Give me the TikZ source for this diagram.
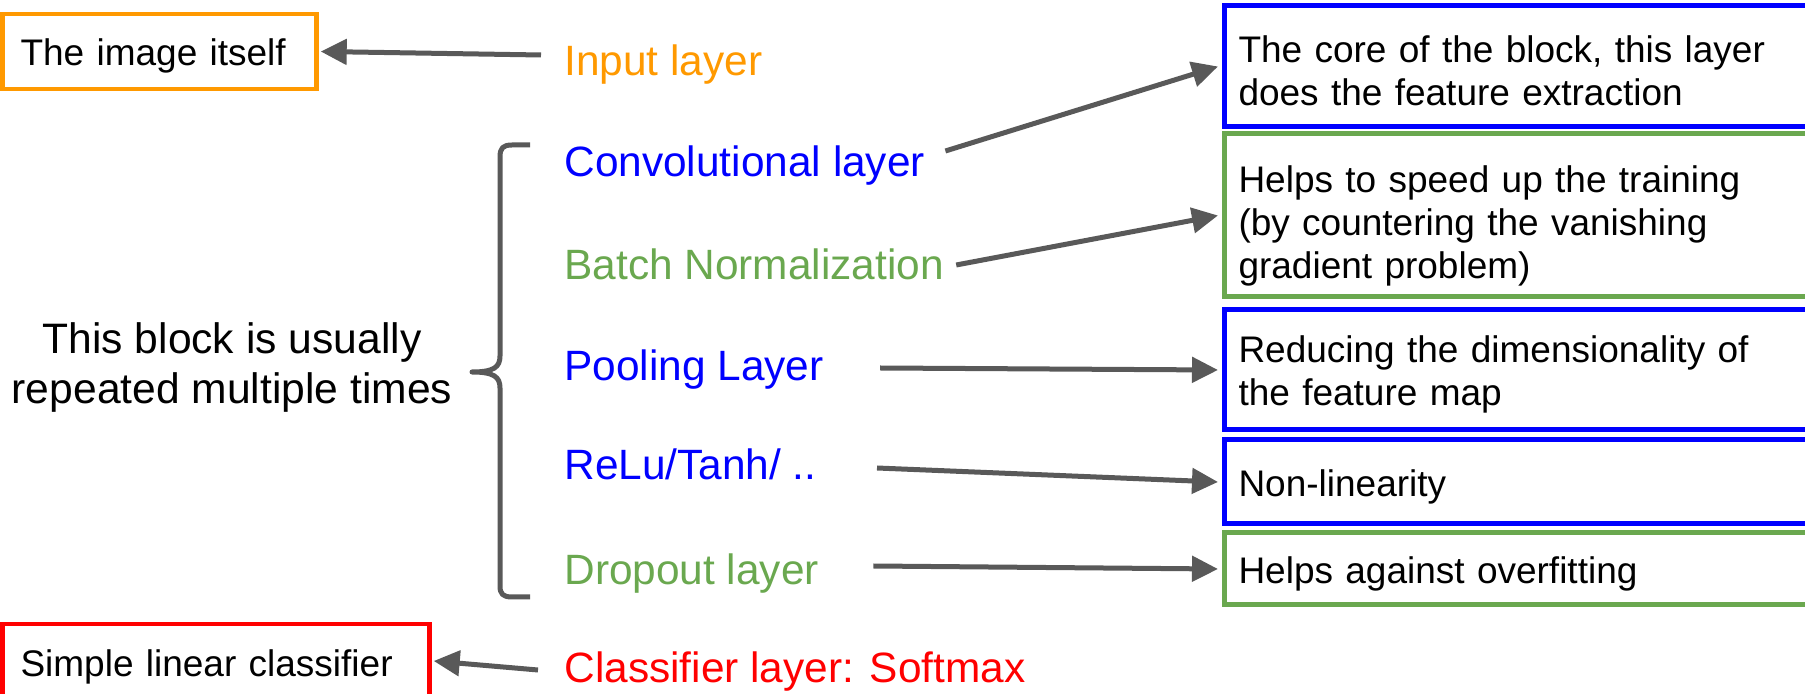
\documentclass[tikz,border=0pt]{standalone}
\usepackage{fontspec}
\setmainfont{Liberation Sans}
\usetikzlibrary{arrows.meta}
\definecolor{cblue}{HTML}{0000FF}
\definecolor{cgreen}{HTML}{6AA84F}
\definecolor{corange}{HTML}{FF9900}
\definecolor{cred}{HTML}{FF0000}
\definecolor{agray}{HTML}{595959}
\newcommand\topgap[1]{\rule{0pt}{#1}}
\begin{document}
\begin{tikzpicture}[x=0.5pt,y=-0.5pt,
  lbl/.style={anchor=west, inner sep=0pt, font=\fontsize{21.2}{25}\selectfont},
  rbox/.style={draw, line width=2.5pt, anchor=west, inner xsep=7pt, inner ysep=0pt, text width=330pt, align=left, font=\fontsize{18.5}{21.5}\selectfont, text=black},
  lbox/.style={draw, line width=2.2pt, inner xsep=9pt, inner ysep=0pt, align=left, font=\fontsize{18.5}{21.5}\selectfont, text=black},
  arr/.style={draw=agray, line width=2.5pt, -{Triangle[length=13pt,width=12.5pt]}},
  bracestyle/.style={draw=agray, line width=2.5pt, line join=round}]
\useasboundingbox (0,0) rectangle (1805,694);
\clip (0,0) rectangle (1805,694);

% left boxes
\node[lbox, draw=corange, text width=139pt, minimum height=37.5pt] (img) at (159.5,51.5) {\topgap{18pt}The image itself};
\node[lbox, draw=cred, text width=195.5pt, minimum height=43pt] (lin) at (216,667) {Simple linear classifier};

% right boxes
\node[rbox, draw=cblue, minimum height=60.5pt] (b1) at (1222,66.5) {\topgap{18pt}The core of the block, this layer\\does the feature extraction};
\node[rbox, draw=cgreen, minimum height=81.5pt] (b2) at (1222,215.5) {\topgap{23.5pt}Helps to speed up the training\\(by countering the vanishing\\gradient problem)};
\node[rbox, draw=cblue, minimum height=60pt] (b3) at (1222,370) {\topgap{18pt}Reducing the dimensionality of\\the feature map};
\node[rbox, draw=cblue, minimum height=42pt] (b4) at (1222,482) {\topgap{18pt}Non-linearity};
\node[rbox, draw=cgreen, minimum height=36pt] (b5) at (1222,569) {\topgap{18pt}Helps against overfitting};

% layer labels
\node[lbl, text=corange] (inp) at (564,64.5) {Input layer};
\node[lbl, text=cblue] (conv) at (564,165.5) {Convolutional layer};
\node[lbl, text=cgreen] (bn) at (564,264) {Batch Normalization};
\node[lbl, text=cblue] (pool) at (564,369.5) {Pooling Layer};
\node[lbl, text=cblue] (relu) at (564,464.5) {ReLu/Tanh/ ..};
\node[lbl, text=cgreen] (drop) at (564,574) {Dropout layer};
\node[lbl, text=cred] (cls) at (564,671.5) {Classifier layer: Softmax};

% block note
\node[align=center, inner sep=0pt, font=\fontsize{21.3}{25}\selectfont] (note) at (232,367) {This block is usually\\repeated multiple times};

% brace
\draw[bracestyle] (530,145) -- (512,145) .. controls (503,145) and (500,148) .. (500,157) -- (500,356)
  .. controls (500,367) and (494,372) .. (472,372)
  .. controls (494,372) and (500,377) .. (500,388) -- (500,586)
  .. controls (500,594) and (503,597) .. (512,597) -- (530,597);

% arrows
\draw[arr] ([shift={(-23,-9.5)}]inp.west) -- ([shift={(2,0)}]img.east);
\draw[arr] ([shift={(20,-14.5)}]conv.east) -- ([shift={(-4,0)}]b1.west);
\draw[arr] ([shift={(12,1)}]bn.east) -- ([shift={(-4,0)}]b2.west);
\draw[arr] ([shift={(56,-1.5)}]pool.east) -- ([shift={(-4,0)}]b3.west);
\draw[arr] ([shift={(60,3.5)}]relu.east) -- ([shift={(-4,0)}]b4.west);
\draw[arr] ([shift={(54,-8)}]drop.east) -- ([shift={(-4,0)}]b5.west);
\draw[arr] ([shift={(-26,-1.5)}]cls.west) -- ([shift={(2,-6)}]lin.east);
\end{tikzpicture}
\end{document}
